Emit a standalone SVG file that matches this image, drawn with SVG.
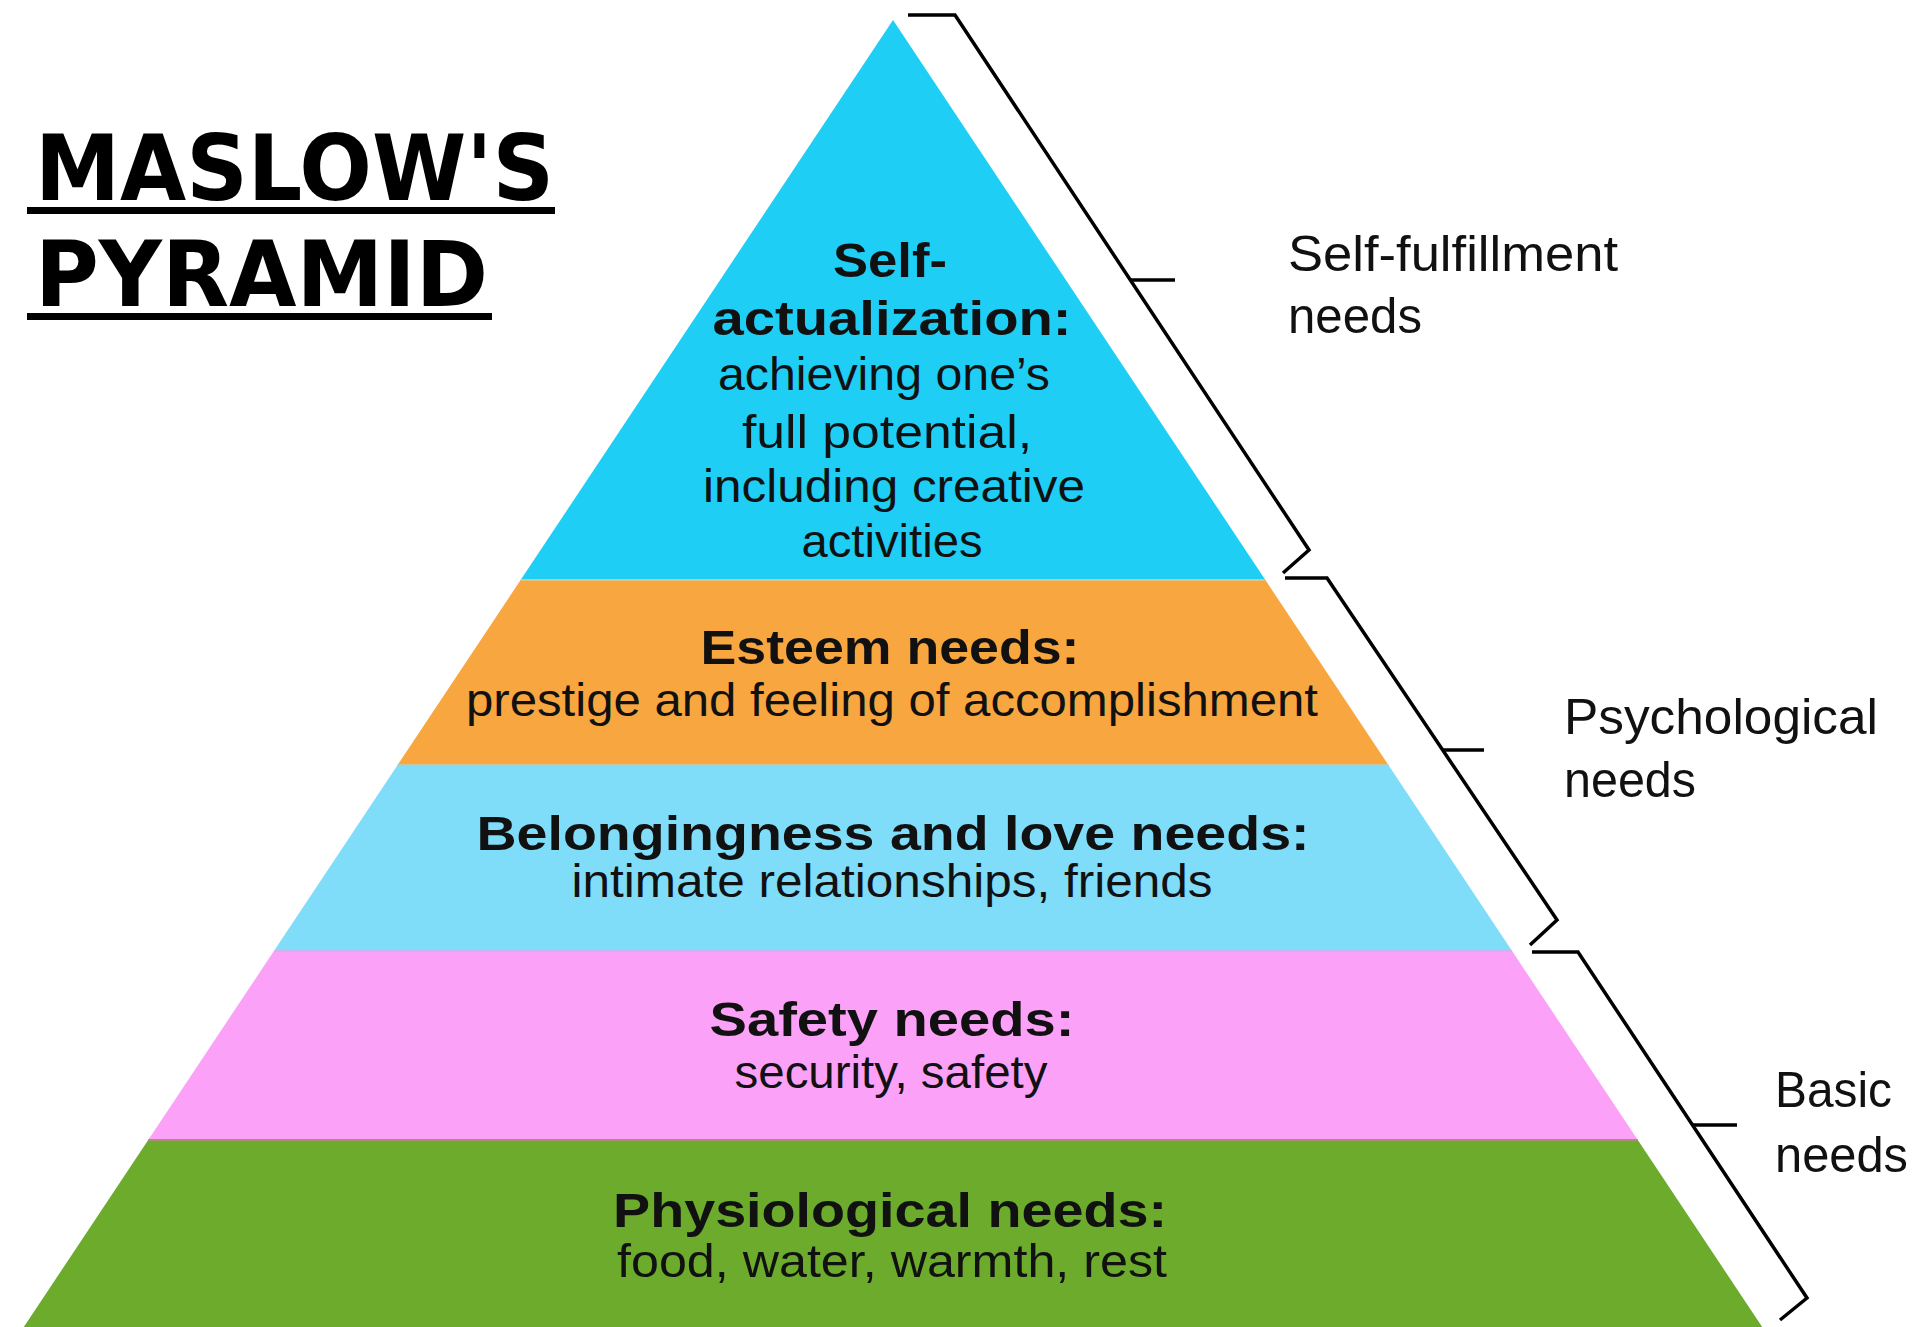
<svg xmlns="http://www.w3.org/2000/svg" width="1917" height="1327" viewBox="0 0 1917 1327">
<style>
.h{font-family:"Liberation Sans",Arial,sans-serif;font-weight:bold;font-size:48px;fill:#111;text-anchor:middle}
.b{font-family:"Liberation Sans",Arial,sans-serif;font-size:46px;fill:#111;text-anchor:middle}
.s{font-family:"Liberation Sans",Arial,sans-serif;font-size:50px;fill:#111}
.t{font-family:"DejaVu Sans",Verdana,sans-serif;font-weight:bold;font-size:90px;fill:#000}
.br{fill:none;stroke:#000;stroke-width:3.5;stroke-linejoin:miter}
.sep{stroke-width:2;fill:none}
</style>
<rect width="1917" height="1327" fill="#fff"/>
<g id="title">
<text class="t" x="35" y="200" textLength="519" lengthAdjust="spacingAndGlyphs">MASLOW'S</text>
<rect x="27" y="207" width="528" height="7" fill="#000"/>
<text class="t" x="35" y="306" textLength="453" lengthAdjust="spacingAndGlyphs">PYRAMID</text>
<rect x="27" y="313" width="465" height="7" fill="#000"/>
</g>
<g id="self-actualization">
<polygon points="893,20 1265.4,580 520.6,580" fill="#1fcef5"/>
<text class="h" x="890" y="277" textLength="114" lengthAdjust="spacingAndGlyphs">Self-</text>
<text class="h" x="892" y="335" textLength="359" lengthAdjust="spacingAndGlyphs">actualization:</text>
<text class="b" x="884" y="390" textLength="332" lengthAdjust="spacingAndGlyphs">achieving one’s</text>
<text class="b" x="887" y="448" textLength="290" lengthAdjust="spacingAndGlyphs">full potential,</text>
<text class="b" x="894" y="502" textLength="382" lengthAdjust="spacingAndGlyphs">including creative</text>
<text class="b" x="892" y="557" textLength="181" lengthAdjust="spacingAndGlyphs">activities</text>
</g>
<g id="esteem">
<polygon points="520.6,580 1265.4,580 1388.4,765 397.6,765" fill="#f8a63f"/>
<line class="sep" x1="520.6" y1="580" x2="1265.4" y2="580" stroke="#e4c27a"/>
<text class="h" x="890" y="664" textLength="379" lengthAdjust="spacingAndGlyphs">Esteem needs:</text>
<text class="b" x="892" y="716" textLength="852" lengthAdjust="spacingAndGlyphs">prestige and feeling of accomplishment</text>
</g>
<g id="belongingness">
<polygon points="397.6,765 1388.4,765 1512.1,951 273.9,951" fill="#80ddfa"/>
<line class="sep" x1="397.6" y1="765" x2="1388.4" y2="765" stroke="#c9c6a0"/>
<text class="h" x="893" y="850" textLength="833" lengthAdjust="spacingAndGlyphs">Belongingness and love needs:</text>
<text class="b" x="892" y="897" textLength="641" lengthAdjust="spacingAndGlyphs">intimate relationships, friends</text>
</g>
<g id="safety">
<polygon points="273.9,951 1512.1,951 1637.8,1140 148.2,1140" fill="#fca1f8"/>
<line class="sep" x1="273.9" y1="951" x2="1512.1" y2="951" stroke="#c6b6f2"/>
<text class="h" x="892" y="1036" textLength="365" lengthAdjust="spacingAndGlyphs">Safety needs:</text>
<text class="b" x="891" y="1088" textLength="313" lengthAdjust="spacingAndGlyphs">security, safety</text>
</g>
<g id="physiological">
<polygon points="148.2,1140 1637.8,1140 1762.2,1327 23.8,1327" fill="#6cab2c"/>
<line class="sep" x1="148.2" y1="1140" x2="1637.8" y2="1140" stroke="#a8906a"/>
<text class="h" x="890" y="1227" textLength="554" lengthAdjust="spacingAndGlyphs">Physiological needs:</text>
<text class="b" x="892" y="1277" textLength="550" lengthAdjust="spacingAndGlyphs">food, water, warmth, rest</text>
</g>
<g id="connectors">
<polyline class="br" points="908,15 955,15 1309,550 1283,573"/>
<line class="br" x1="1130" y1="280" x2="1175" y2="280"/>
<polyline class="br" points="1285,578 1327,578 1557,920 1530,945"/>
<line class="br" x1="1443" y1="750" x2="1484" y2="750"/>
<polyline class="br" points="1532,952 1578,952 1807,1298 1780,1320"/>
<line class="br" x1="1692" y1="1125" x2="1737" y2="1125"/>
</g>
<g id="label-self-fulfillment">
<text class="s" x="1288" y="271" textLength="330" lengthAdjust="spacingAndGlyphs">Self-fulfillment</text>
<text class="s" x="1288" y="333" textLength="134" lengthAdjust="spacingAndGlyphs">needs</text>
</g>
<g id="label-psychological">
<text class="s" x="1564" y="734" textLength="314" lengthAdjust="spacingAndGlyphs">Psychological</text>
<text class="s" x="1564" y="797" textLength="132" lengthAdjust="spacingAndGlyphs">needs</text>
</g>
<g id="label-basic">
<text class="s" x="1775" y="1107" textLength="117" lengthAdjust="spacingAndGlyphs">Basic</text>
<text class="s" x="1775" y="1172" textLength="133" lengthAdjust="spacingAndGlyphs">needs</text>
</g>
</svg>
